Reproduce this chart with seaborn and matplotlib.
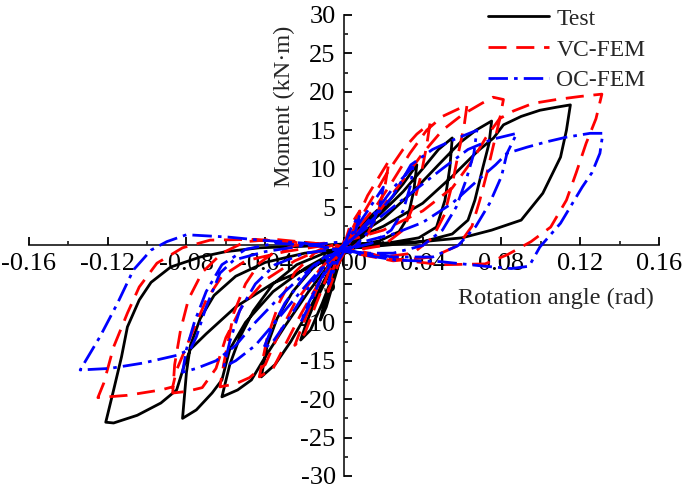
import matplotlib
matplotlib.use("Agg")
import matplotlib.pyplot as plt
from matplotlib.ticker import MultipleLocator
import seaborn as sns

# ─── Data ─────────────────────────────────────────────────────────────────────
# Test (black, solid) — six load cycles, concatenated
test_x = [0.000, 0.002, 0.005, 0.004, 0.001, -0.004, -0.008, -0.011, -0.012, -0.009, -0.005, -0.001,
          0.004, 0.010, 0.017, 0.015, 0.010, 0.004, -0.003, -0.009, -0.015, -0.019, -0.022, -0.017, -0.011, -0.005, 0.000,
          0.006, 0.014, 0.022, 0.030, 0.037, 0.0355, 0.0325, 0.028, 0.018, 0.006, -0.006, -0.016, -0.026, -0.034, -0.039, -0.042,
          -0.035, -0.027, -0.018, -0.010, -0.003,
          0.006, 0.018, 0.030, 0.040, 0.048, 0.055, 0.0538, 0.0513, 0.047, 0.038, 0.022, 0.006, -0.010, -0.024, -0.036, -0.046,
          -0.053, -0.058, -0.062, -0.054, -0.047, -0.040, -0.030, -0.018, -0.006,
          0.008, 0.020, 0.035, 0.048, 0.059, 0.067, 0.075, 0.0737, 0.0706, 0.0665, 0.063, 0.055, 0.040, 0.020, 0.000, -0.020,
          -0.040, -0.055, -0.066, -0.073, -0.078, -0.080, -0.082, -0.075, -0.067, -0.062, -0.058, -0.050, -0.036, -0.020, -0.006,
          0.000, 0.020, 0.040, 0.055, 0.068, 0.076, 0.081, 0.090, 0.0995, 0.108, 0.115, 0.113, 0.110, 0.101, 0.090, 0.075, 0.060,
          0.040, 0.020, 0.000, -0.020, -0.043, -0.060, -0.073, -0.088, -0.098, -0.104, -0.110, -0.113, -0.117, -0.121, -0.117,
          -0.105, -0.093, -0.085, -0.081, -0.078, -0.070, -0.055, -0.036, -0.012, 0.000]
test_y = [0.0, 1.0, 2.0, 1.0, -0.5, -3.0, -6.0, -8.5, -9.7, -8.0, -4.5, -1.0,
          1.2, 3.0, 4.6, 3.0, 1.2, 0.2, -1.5, -4.5, -7.5, -10.0, -12.3, -11.0, -7.5, -3.5, -0.8,
          1.5, 3.5, 5.5, 8.0, 10.5, 7.2, 3.7, 1.8, 0.6, 0.0, -1.0, -3.0, -6.0, -9.5, -13.0, -17.1,
          -15.5, -12.5, -8.5, -4.5, -1.5,
          1.5, 4.0, 7.0, 10.0, 12.5, 14.0, 10.2, 5.9, 2.4, 1.0, 0.3, -0.3, -1.0, -2.5, -5.0, -8.5,
          -12.0, -15.5, -19.7, -18.8, -17.5, -14.5, -10.5, -6.0, -2.0,
          1.5, 3.5, 7.0, 10.5, 13.4, 15.0, 16.2, 13.3, 10.2, 5.9, 3.3, 1.5, 0.5, 0.0, -0.4, -1.0,
          -2.2, -4.0, -6.5, -9.5, -13.0, -16.5, -22.5, -21.4, -19.2, -17.5, -13.5, -10.0, -6.0, -3.0, -1.0,
          0.3, 2.5, 5.5, 9.0, 12.3, 14.0, 15.7, 16.8, 17.6, 18.0, 18.3, 15.0, 11.5, 6.8, 3.3, 2.0, 1.0,
          0.5, 0.3, 0.2, -0.1, -0.3, -0.8, -1.5, -2.8, -4.8, -7.1, -10.6, -14.5, -18.8, -23.0, -23.1,
          -22.1, -20.5, -18.8, -15.5, -13.5, -11.5, -8.0, -4.9, -2.3, -1.0]

# VC-FEM (red, dashed)
vc_x = [0.000, 0.003, 0.008, 0.006, 0.002, -0.003, -0.008, -0.006, -0.002,
        0.004, 0.012, 0.018, 0.023, 0.021, 0.017, 0.011, 0.003, -0.005, -0.012, -0.018, -0.022, -0.025, -0.020, -0.014,
        -0.007, 0.000,
        0.006, 0.014, 0.022, 0.030, 0.037, 0.0437, 0.042, 0.039, 0.035, 0.030, 0.020, 0.008, -0.004, -0.015, -0.025,
        -0.033, -0.039, -0.043, -0.036, -0.030, -0.022, -0.012, -0.003,
        0.006, 0.016, 0.025, 0.0335, 0.042, 0.050, 0.0625, 0.061, 0.0585, 0.055, 0.051, 0.045, 0.035, 0.020, 0.005,
        -0.010, -0.025, -0.036, -0.043, -0.050, -0.056, -0.061, -0.063, -0.055, -0.048, -0.040, -0.034, -0.025, -0.012, 0.000,
        0.008, 0.018, 0.030, 0.040, 0.050, 0.060, 0.070, 0.0757, 0.081, 0.079, 0.0757, 0.0726, 0.069, 0.065, 0.058, 0.045,
        0.025, 0.005, -0.015, -0.035, -0.050, -0.062, -0.072, -0.079, -0.083, -0.086, -0.087, -0.080, -0.072, -0.065,
        -0.060, -0.052, -0.040, -0.025, -0.010,
        0.000, 0.020, 0.040, 0.055, 0.065, 0.072, 0.079, 0.086, 0.096, 0.108, 0.120, 0.131, 0.128, 0.123, 0.118, 0.113,
        0.105, 0.095, 0.083, 0.0716, 0.050, 0.0356, 0.020, 0.000, -0.020, -0.045, -0.068, -0.082, -0.095, -0.104, -0.110,
        -0.117, -0.122, -0.125, -0.110, -0.093, -0.087, -0.085, -0.078, -0.070, -0.062, -0.050, -0.030, -0.010]
vc_y = [0.0, 2.5, 4.5, 2.0, 0.0, -2.5, -6.0, -3.5, -0.5,
        2.0, 6.5, 9.0, 11.1, 8.0, 4.0, 1.0, -0.5, -1.5, -4.5, -8.5, -11.0, -13.0, -11.5, -7.5,
        -3.0, 0.0,
        2.5, 6.0, 9.5, 12.5, 14.5, 15.9, 13.0, 9.0, 5.0, 2.0, 0.0, -0.5, 0.0, -1.0, -3.5,
        -7.5, -12.0, -17.1, -16.0, -13.0, -9.0, -4.5, -1.0,
        2.0, 5.0, 8.5, 12.0, 15.0, 16.8, 18.3, 15.5, 12.5, 8.0, 4.0, 1.0, -1.0, -1.5, -0.5,
        0.3, 0.0, -1.0, -2.3, -5.0, -8.8, -15.3, -18.4, -18.0, -17.2, -15.5, -12.0, -7.5, -3.0, 0.0,
        2.0, 4.5, 8.5, 12.0, 15.0, 17.0, 18.5, 19.3, 19.0, 16.3, 12.8, 9.4, 5.9, 2.5, 0.0, -1.5,
        -2.0, -1.0, 0.3, 0.8, 0.5, -1.0, -3.5, -7.0, -11.0, -15.5, -19.2, -19.0, -18.5, -16.0,
        -12.0, -8.0, -4.5, -2.0, -0.3,
        0.5, 2.0, 4.5, 7.5, 11.0, 14.0, 16.5, 17.5, 18.5, 19.0, 19.4, 19.7, 16.5, 13.3, 9.5, 5.9,
        2.4, 0.5, -1.2, -2.4, -2.5, -2.1, -1.5, -0.5, 0.3, 0.8, 0.7, -0.3, -2.3, -5.4, -8.8,
        -13.2, -17.9, -19.8, -19.5, -18.8, -18.4, -16.2, -11.9, -7.1, -4.0, -2.0, -0.8, 0.0]

# OC-FEM (blue, dash-dot)
oc_x = [0.000, 0.004, 0.008, 0.006, 0.002, -0.003, -0.008, -0.006, -0.002,
        0.004, 0.012, 0.020, 0.018, 0.013, 0.006, -0.004, -0.012, -0.018, -0.022, -0.018, -0.012, -0.005,
        0.005, 0.015, 0.025, 0.035, 0.034, 0.030, 0.024, 0.014, 0.002, -0.010, -0.020, -0.030, -0.037, -0.041, -0.036,
        -0.028, -0.018, -0.008,
        0.004, 0.015, 0.025, 0.034, 0.045, 0.056, 0.0675, 0.066, 0.062, 0.057, 0.050, 0.040, 0.025, 0.010, -0.005,
        -0.020, -0.035, -0.045, -0.053, -0.058, -0.061, -0.055, -0.045, -0.035, -0.022, -0.010,
        0.005, 0.020, 0.035, 0.050, 0.063, 0.075, 0.0878, 0.0828, 0.080, 0.074, 0.067, 0.058, 0.045, 0.025, 0.005, -0.015,
        -0.035, -0.050, -0.062, -0.070, -0.076, -0.080, -0.082, -0.075, -0.065, -0.055, -0.045, -0.030, -0.015, 0.000,
        0.010, 0.025, 0.040, 0.055, 0.068, 0.077, 0.0828, 0.093, 0.103, 0.113, 0.125, 0.1315, 0.130, 0.126, 0.121, 0.110,
        0.0995, 0.094, 0.085, 0.0716, 0.049, 0.026, 0.005, -0.020, -0.043, -0.059, -0.080, -0.090, -0.098, -0.107, -0.115,
        -0.124, -0.131, -0.134, -0.119, -0.102, -0.085, -0.078, -0.075, -0.070, -0.063, -0.056, -0.040, -0.020, 0.000]
oc_y = [0.0, 2.5, 4.0, 2.0, 0.0, -2.0, -5.0, -3.0, -0.5,
        1.5, 4.5, 7.6, 5.0, 2.0, 0.0, -1.5, -4.5, -7.5, -10.0, -8.0, -4.5, -1.0,
        1.0, 4.0, 7.5, 10.2, 8.0, 4.5, 2.0, 0.3, -0.5, -1.5, -4.0, -7.5, -11.0, -13.5, -12.5,
        -9.5, -5.5, -2.0,
        0.8, 3.5, 6.5, 10.5, 12.5, 13.8, 15.0, 12.0, 8.5, 5.0, 2.0, 0.0, -1.0, -1.0, -0.5,
        -1.0, -2.5, -5.0, -8.5, -12.5, -15.8, -15.0, -13.0, -10.0, -6.0, -2.5,
        1.0, 4.0, 7.0, 10.0, 12.5, 13.8, 14.6, 12.0, 9.0, 5.5, 2.5, 0.0, -1.5, -1.5, -0.8, 0.0,
        0.3, -0.5, -2.5, -6.0, -10.0, -13.5, -16.5, -16.0, -15.0, -13.0, -10.0, -6.0, -2.5, -0.5,
        0.5, 1.5, 3.0, 5.5, 8.5, 10.5, 12.0, 12.8, 13.5, 14.1, 14.6, 14.6, 12.0, 9.5, 7.6, 2.9,
        -0.2, -2.7, -3.0, -2.7, -2.1, -1.9, -1.0, 0.3, 0.7, 1.1, 1.4, 0.5, -0.6, -3.2, -7.5,
        -11.9, -14.9, -16.2, -16.0, -15.3, -14.3, -13.5, -11.9, -8.0, -3.6, -1.9, -0.8, 0.0, 0.5]

x_ticks = [-0.16, -0.12, -0.08, -0.04, 0.00, 0.04, 0.08, 0.12, 0.16]
x_tick_labels = ["-0.16", "-0.12", "-0.08", "-0.04", "0.00", "0.04", "0.08", "0.12", "0.16"]
y_ticks = [-30, -25, -20, -15, -10, -5, 0, 5, 10, 15, 20, 25, 30]
y_tick_labels = ["-30", "-25", "-20", "-15", "-10", "-5", "", "5", "10", "15", "20", "25", "30"]


def main():
    sns.set_style("ticks")
    plt.rcParams["font.family"] = ["Liberation Serif", "DejaVu Serif"]
    plt.rcParams["axes.unicode_minus"] = False

    fig = plt.figure(figsize=(6.85, 4.95), dpi=100)
    ax = fig.add_axes([0.0423, 0.0384, 0.9197, 0.9313])

    # ── Curves ─────────────────────────────────────────────────
    sns.lineplot(x=test_x, y=test_y, sort=False, estimator=None, ax=ax,
                 color="black", lw=2.0, label="Test")
    sns.lineplot(x=vc_x, y=vc_y, sort=False, estimator=None, ax=ax,
                 color="#ff0000", lw=2.0, label="VC-FEM")
    sns.lineplot(x=oc_x, y=oc_y, sort=False, estimator=None, ax=ax,
                 color="#0000ff", lw=2.0, label="OC-FEM")
    ax.lines[1].set_dashes([6.5, 3.5])
    ax.lines[2].set_dashes([7.0, 2.2, 1.3, 2.2])

    # ── Axes through the origin ───────────────────────────────
    ax.set_xlim(-0.16, 0.16)
    ax.set_ylim(-30, 30)
    for side in ("top", "right"):
        ax.spines[side].set_visible(False)
    ax.spines["left"].set_position(("data", 0))
    ax.spines["bottom"].set_position(("data", 0))
    for side in ("left", "bottom"):
        ax.spines[side].set_linewidth(1.3)
        ax.spines[side].set_zorder(0.5)

    ax.set_xticks(x_ticks)
    ax.set_xticklabels(x_tick_labels)
    ax.set_yticks(y_ticks)
    ax.set_yticklabels(y_tick_labels)
    ax.xaxis.set_minor_locator(MultipleLocator(0.02))
    ax.yaxis.set_minor_locator(MultipleLocator(2.5))
    ax.tick_params(which="major", direction="in", length=6, width=1.3,
                   labelsize=19, colors="black")
    ax.tick_params(which="minor", direction="in", length=3, width=1.3)
    ax.tick_params(axis="x", pad=5.5)
    ax.tick_params(axis="y", pad=6)

    ax.set_xlabel("")
    ax.set_ylabel("")
    ax.text(0.837, 0.386, "Rotation angle (rad)", transform=ax.transAxes,
            ha="center", va="center", fontsize=17.5)
    ax.text(0.406, 0.803, "Moment (kN\u00b7m)", transform=ax.transAxes,
            ha="center", va="center", rotation=90, fontsize=17.5)

    ax.legend(loc="upper left", bbox_to_anchor=(488 / 685, 1 - 8 / 495),
              bbox_transform=fig.transFigure, frameon=False, fontsize=17,
              handlelength=2.6, handletextpad=0.3, labelspacing=0.4,
              borderpad=0, borderaxespad=0)

    fig.savefig("out.png", dpi=100)
    plt.close(fig)


if __name__ == "__main__":
    main()
